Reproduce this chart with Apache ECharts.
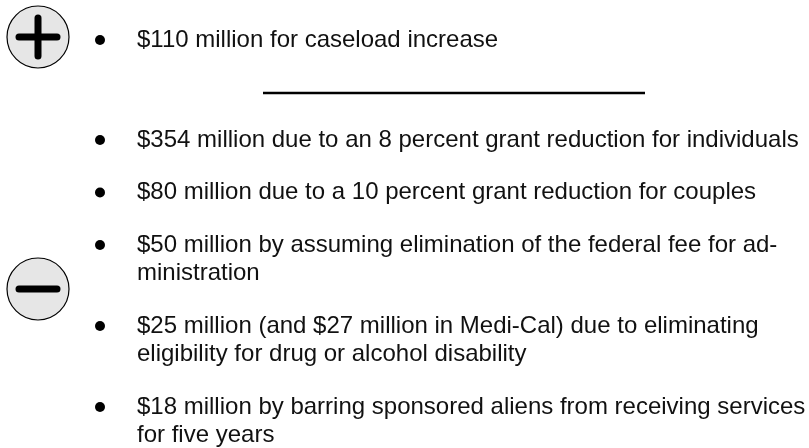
<!DOCTYPE html>
<html>
<head>
<meta charset="utf-8">
<script src="https://cdn.jsdelivr.net/npm/echarts@6/dist/echarts.min.js"></script>
<style>
  html, body { margin: 0; padding: 0; background: #fff; }
  #main { width: 809px; height: 448px; }
</style>
</head>
<body>
<div id="main"></div>
<script>
// items are kept as the lines they wrap into in the picture
var increaseItems = [
    ['$110 million for caseload increase']
];
var reductionItems = [
    ['$354 million due to an 8 percent grant reduction for individuals'],
    ['$80 million due to a 10 percent grant reduction for couples'],
    ['$50 million by assuming elimination of the federal fee for ad-', 'ministration'],
    ['$25 million (and $27 million in Medi-Cal) due to eliminating', 'eligibility for drug or alcohol disability'],
    ['$18 million by barring sponsored aliens from receiving services', 'for five years']
];

var FONT = '24px "Liberation Sans", Arial, Helvetica, sans-serif';
var LINE_H = 28.5;
var ITEM_GAP = 52.5;
var BULLET_X = 100;
var TEXT_X = 137;

function itemGraphics(items, startY) {
    var out = [];
    var y = startY;
    items.forEach(function (lines) {
        out.push({
            type: 'circle',
            shape: {cx: BULLET_X, cy: y, r: 5},
            style: {fill: '#000'}
        });
        lines.forEach(function (line, i) {
            out.push({
                type: 'text',
                x: TEXT_X,
                y: y + i * LINE_H,
                style: {text: line, font: FONT, fill: '#111', verticalAlign: 'middle'}
            });
        });
        y += (lines.length - 1) * LINE_H + ITEM_GAP;
    });
    return out;
}

function signBadge(cx, cy, plus) {
    var g = [{
        type: 'circle',
        shape: {cx: cx, cy: cy, r: 31},
        style: {fill: '#e6e6e6', stroke: '#000', lineWidth: 1.2}
    }, {
        type: 'line',
        shape: {x1: cx - 19, y1: cy, x2: cx + 19, y2: cy},
        style: {stroke: '#000', lineWidth: 7, lineCap: 'round'}
    }];
    if (plus) {
        g.push({
            type: 'line',
            shape: {x1: cx, y1: cy - 19, x2: cx, y2: cy + 19},
            style: {stroke: '#000', lineWidth: 7, lineCap: 'round'}
        });
    }
    return g;
}

var chart = echarts.init(document.getElementById('main'), null, {renderer: 'canvas'});

var elements = []
    .concat(signBadge(38, 37, true))
    .concat(itemGraphics(increaseItems, 40))
    .concat([{
        type: 'line',
        shape: {x1: 263, y1: 93, x2: 645, y2: 93},
        style: {stroke: '#000', lineWidth: 2.5}
    }])
    .concat(signBadge(38, 289, false))
    .concat(itemGraphics(reductionItems, 140));

chart.setOption({
    backgroundColor: '#fff',
    animation: false,
    graphic: elements
});
</script>
</body>
</html>
